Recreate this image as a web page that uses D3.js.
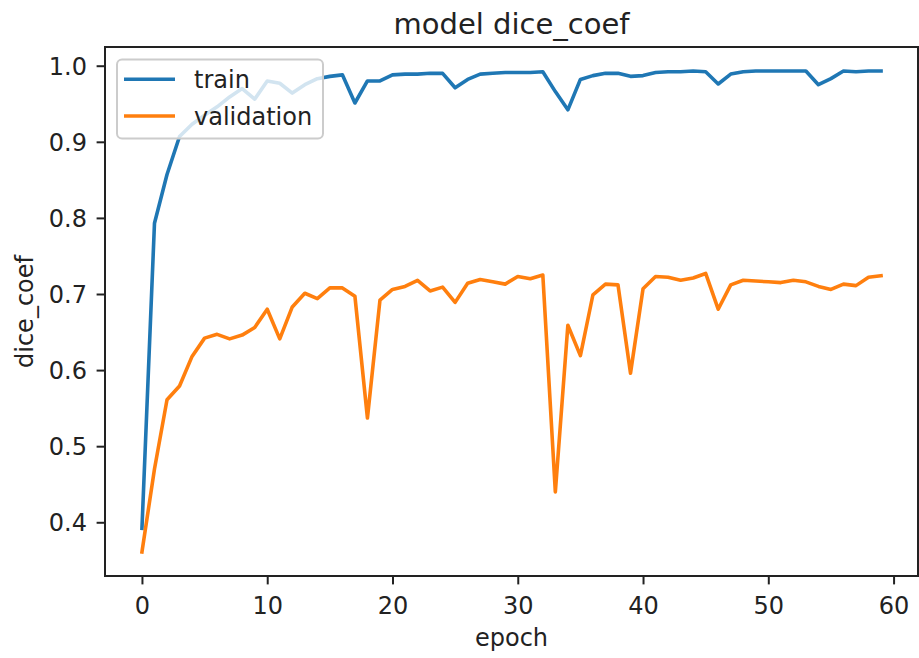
<!DOCTYPE html>
<html>
<head>
<meta charset="utf-8">
<script src="https://cdn.jsdelivr.net/npm/d3@7"></script>
<style>
  html, body { margin: 0; padding: 0; background: #fff; }
  svg { display: block; }
  text { font-family: "DejaVu Sans", sans-serif; fill: #222; }
</style>
</head>
<body>
<svg id="chart" width="919" height="658"></svg>
<script>
// Per-epoch dice coefficient for training and validation
const epochs = d3.range(60);
const trainDice = [
  0.392, 0.793, 0.857, 0.907, 0.923, 0.935, 0.946, 0.959, 0.970, 0.956,
  0.980, 0.977, 0.964, 0.975, 0.983, 0.986, 0.988, 0.951, 0.980, 0.980,
  0.988, 0.989, 0.989, 0.990, 0.990, 0.971, 0.982, 0.989, 0.990, 0.991,
  0.991, 0.991, 0.992, 0.966, 0.942, 0.982, 0.987, 0.990, 0.990, 0.986,
  0.987, 0.991, 0.992, 0.992, 0.993, 0.992, 0.976, 0.989, 0.992, 0.993,
  0.993, 0.993, 0.993, 0.993, 0.975, 0.983, 0.993, 0.992, 0.993, 0.993
];
const valDice = [
  0.361, 0.470, 0.561, 0.579, 0.618, 0.642, 0.647, 0.641, 0.646, 0.656,
  0.680, 0.641, 0.683, 0.701, 0.694, 0.708, 0.708, 0.697, 0.537, 0.692,
  0.706, 0.710, 0.718, 0.704, 0.709, 0.689, 0.714, 0.719, 0.716, 0.713,
  0.723, 0.720, 0.725, 0.440, 0.659, 0.619, 0.699, 0.713, 0.712, 0.596,
  0.707, 0.723, 0.722, 0.718, 0.721, 0.727, 0.680, 0.712, 0.718, 0.717,
  0.716, 0.715, 0.718, 0.716, 0.710, 0.706, 0.713, 0.711, 0.722, 0.724
];
const xTicks = [0, 10, 20, 30, 40, 50, 60];
const yTicks = [0.4, 0.5, 0.6, 0.7, 0.8, 0.9, 1.0];
const seriesNames = ["train", "validation"];
const seriesColors = ["#1f77b4", "#ff7f0e"];

const svg = d3.select("#chart");
const plot = { left: 105, right: 918, top: 47, bottom: 576 };

// Axis limits padded by 5% of the data span on each side
function padded(lo, hi) {
  const m = (hi - lo) * 0.05;
  return [lo - m, hi + m];
}
const xDom = padded(d3.min(epochs), d3.max(epochs));
const allY = trainDice.concat(valDice);
const yDom = padded(d3.min(allY), d3.max(allY));

const x = d3.scaleLinear().domain(xDom).range([plot.left, plot.right]);
const y = d3.scaleLinear().domain(yDom).range([plot.bottom, plot.top]);

const fs = 24;
const tickLen = 8.4;

// Lines
const line = d3.line().x((d, i) => x(epochs[i])).y(d => y(d));
[trainDice, valDice].forEach((s, k) => {
  svg.append("path")
    .datum(s)
    .attr("d", line)
    .attr("fill", "none")
    .attr("stroke", seriesColors[k])
    .attr("stroke-width", 3.6)
    .attr("stroke-linejoin", "round")
    .attr("stroke-linecap", "square");
});

// Axes
const xAxis = d3.axisBottom(x).tickValues(xTicks).tickFormat(d3.format("d"))
  .tickSize(tickLen).tickPadding(8.4);
const yAxis = d3.axisLeft(y).tickValues(yTicks).tickFormat(d3.format(".1f"))
  .tickSize(tickLen).tickPadding(8.4);

const gx = svg.append("g").attr("transform", `translate(0,${plot.bottom})`).call(xAxis);
const gy = svg.append("g").attr("transform", `translate(${plot.left},0)`).call(yAxis);
[gx, gy].forEach(g => {
  g.select(".domain").remove();
  g.selectAll(".tick line").attr("stroke", "#222").attr("stroke-width", 2);
  g.selectAll(".tick text").attr("font-size", fs).style("fill", "#222")
    .attr("font-family", "DejaVu Sans");
});
gx.selectAll(".tick text").attr("dy", null).attr("y", 38);
gy.selectAll(".tick text").attr("x", -18).attr("dy", "0.36em");

// Frame
svg.append("rect")
  .attr("x", plot.left).attr("y", plot.top)
  .attr("width", plot.right - plot.left).attr("height", plot.bottom - plot.top)
  .attr("fill", "none").attr("stroke", "#222").attr("stroke-width", 2);

// Title and axis labels
svg.append("text")
  .attr("x", (plot.left + plot.right) / 2).attr("y", 34)
  .attr("text-anchor", "middle").attr("font-size", 29)
  .text("model dice_coef");
svg.append("text")
  .attr("x", (plot.left + plot.right) / 2).attr("y", 646)
  .attr("text-anchor", "middle").attr("font-size", fs)
  .text("epoch");
svg.append("text")
  .attr("transform", `translate(33,${(plot.top + plot.bottom) / 2}) rotate(-90)`)
  .attr("text-anchor", "middle").attr("font-size", fs)
  .text("dice_coef");

// Legend
const lg = svg.append("g");
lg.append("rect")
  .attr("x", 117).attr("y", 59.5).attr("width", 206).attr("height", 79)
  .attr("rx", 5).attr("ry", 5)
  .attr("fill", "#fff").attr("fill-opacity", 0.8)
  .attr("stroke", "#cccccc").attr("stroke-width", 2);
seriesNames.forEach((name, k) => {
  const cy = 79.3 + k * 36.7;
  lg.append("line")
    .attr("x1", 124).attr("x2", 175).attr("y1", cy).attr("y2", cy)
    .attr("stroke", seriesColors[k]).attr("stroke-width", 3.6);
  lg.append("text")
    .attr("x", 194).attr("y", cy + 8.8)
    .attr("font-size", fs)
    .text(name);
});
</script>
</body>
</html>
